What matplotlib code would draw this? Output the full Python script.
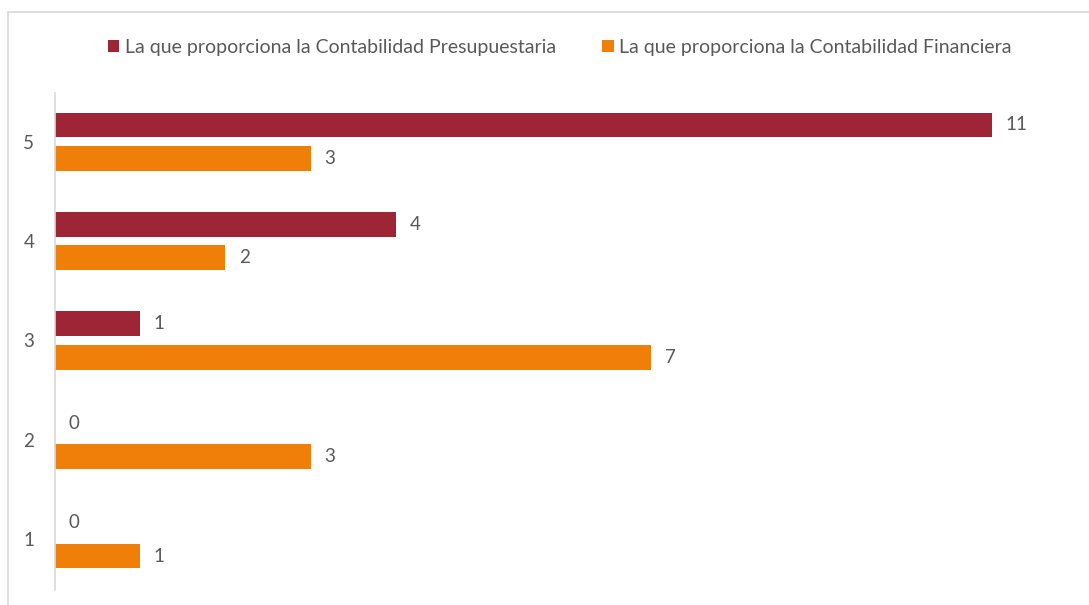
import matplotlib
matplotlib.use("Agg")
import matplotlib.pyplot as plt
import numpy as np
from matplotlib.patches import Rectangle

categories = ["1", "2", "3", "4", "5"]
presupuestaria = [0, 0, 1, 4, 11]
financiera = [1, 3, 7, 2, 3]
series_names = ["La que proporciona la Contabilidad Presupuestaria",
                "La que proporciona la Contabilidad Financiera"]

RED = "#9E2536"
ORANGE = "#F07F09"
GRAY_TEXT = "#595959"
GRAY_LINE = "#D9D9D9"

plt.rcParams["font.family"] = ["Lato", "DejaVu Sans"]

fig = plt.figure(figsize=(10.89, 6.05), dpi=100)
ax = fig.add_axes([0.0505, 0.0248, 0.9385, 0.8215])

y = np.arange(len(categories)) + 1
h = 0.25
off = 0.168

bars_p = ax.barh(y + off, presupuestaria, height=h, color=RED,
                 label=series_names[0])
bars_f = ax.barh(y - off, financiera, height=h, color=ORANGE,
                 label=series_names[1])

for bars, vals in ((bars_p, presupuestaria), (bars_f, financiera)):
    for b, v in zip(bars, vals):
        ax.text(v + 0.16, b.get_y() + b.get_height() / 2, str(v),
                va="center", ha="left", fontsize=13.5, color=GRAY_TEXT)

ax.set_xlim(0, 12)
ax.set_ylim(0.49, 5.49)
ax.set_yticks(y)
ax.set_yticklabels(categories)
ax.set_xticks([])
ax.tick_params(axis="y", length=0, pad=15, labelsize=13.5, labelcolor=GRAY_TEXT)
for side in ("top", "right", "bottom"):
    ax.spines[side].set_visible(False)
ax.spines["left"].set_color(GRAY_LINE)
ax.spines["left"].set_linewidth(1.2)

leg = fig.legend(loc="center", bbox_to_anchor=(0.514, 0.922), ncol=2,
                 frameon=False, fontsize=14, handlelength=0.6,
                 handleheight=0.6, handletextpad=0.3, columnspacing=2.35)
for t in leg.get_texts():
    t.set_color(GRAY_TEXT)

# chart frame
fig.patches.append(Rectangle((8 / 1089, -0.05), 1.0, 1 - 12 / 605 + 0.05,
                             transform=fig.transFigure, fill=False,
                             edgecolor=GRAY_LINE, linewidth=1.2))

fig.savefig("out.png", dpi=100)
